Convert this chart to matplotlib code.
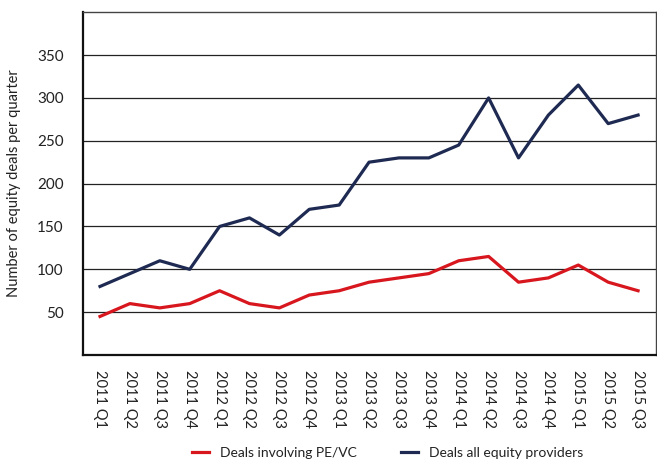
import matplotlib
matplotlib.use("Agg")
import matplotlib.pyplot as plt

quarters = ["2011 Q1", "2011 Q2", "2011 Q3", "2011 Q4", "2012 Q1", "2012 Q2", "2012 Q3",
            "2012 Q4", "2013 Q1", "2013 Q2", "2013 Q3", "2013 Q4", "2014 Q1", "2014 Q2",
            "2014 Q3", "2014 Q4", "2015 Q1", "2015 Q2", "2015 Q3"]
pe_vc = [45, 60, 55, 60, 75, 60, 55, 70, 75, 85, 90, 95, 110, 115, 85, 90, 105, 85, 75]
all_equity = [80, 95, 110, 100, 150, 160, 140, 170, 175, 225, 230, 230, 245, 300, 230,
              280, 315, 270, 280]
y_ticks = [50, 100, 150, 200, 250, 300, 350]

plt.rcParams['font.family'] = ['Lato', 'DejaVu Sans']

fig = plt.figure(figsize=(6.57, 4.69), dpi=100)
ax = fig.add_axes([0.1263, 0.243, 0.8722, 0.731])

x = list(range(len(quarters)))
ax.plot(x, pe_vc, color='#d8161e', lw=2.3, label='Deals involving PE/VC', zorder=3)
ax.plot(x, all_equity, color='#1e2a52', lw=2.3, label='Deals all equity providers', zorder=3)

ax.set_xlim(-0.57, 18.6)
ax.set_ylim(0, 400)
ax.set_yticks(y_ticks)
ax.set_xticks(x)
ax.set_xticklabels(quarters, rotation=270, fontsize=10.5, color='#222222')
ax.tick_params(axis='y', labelsize=11, labelcolor='#222222', length=0, pad=14)
ax.tick_params(axis='x', length=0, pad=11)
ax.grid(axis='y', color='#222222', lw=0.9)
ax.set_axisbelow(True)

for s in ['left', 'bottom']:
    ax.spines[s].set_linewidth(1.6)
    ax.spines[s].set_color('#111111')
for s in ['top', 'right']:
    ax.spines[s].set_linewidth(1.0)
    ax.spines[s].set_color('#444444')

ax.set_ylabel('Number of equity deals per quarter', fontsize=10.5, color='#222222')
ax.yaxis.set_label_coords(-0.108, 0.5)

fig.legend(loc='lower center', bbox_to_anchor=(0.59, -0.005), ncol=2, frameon=False,
           fontsize=10, handlelength=1.2, columnspacing=3.2, labelcolor='#222222')

fig.savefig('out.png', dpi=100)
